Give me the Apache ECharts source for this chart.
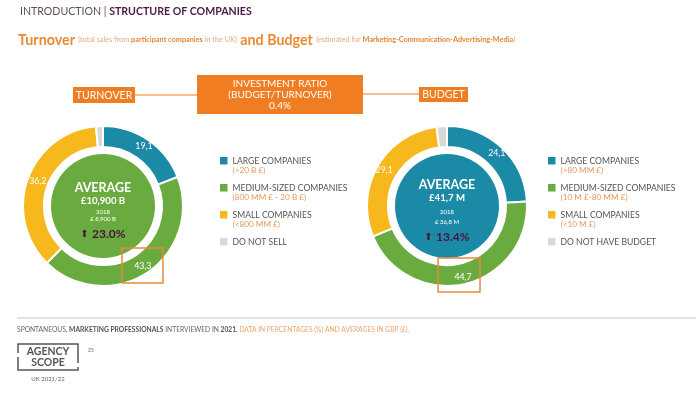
<!DOCTYPE html>
<html>
<head>
<meta charset="utf-8">
<script src="https://cdn.jsdelivr.net/npm/echarts@6/dist/echarts.min.js"></script>
<style>html,body{margin:0;padding:0;background:#fff}#c{width:700px;height:393px}</style>
</head>
<body>
<div id="c"></div>
<script>
const turnoverNames = ['LARGE COMPANIES', 'MEDIUM-SIZED COMPANIES', 'SMALL COMPANIES', 'DO NOT SELL'];
const turnoverSubs = ['(>20 B £)', '(800 MM £ - 20 B £)', '(<800 MM £)', ''];
const turnoverValues = [19.1, 43.3, 36.2, 1.4];

const budgetNames = ['LARGE COMPANIES', 'MEDIUM-SIZED COMPANIES', 'SMALL COMPANIES', 'DO NOT HAVE BUDGET'];
const budgetSubs = ['(>80 MM £)', '(10 M £-80 MM £)', '(<10 M £)', ''];
const budgetValues = [24.1, 44.7, 29.1, 2.1];

const turnoverAvg = ['AVERAGE', '£10,900 B', '2018', '£ 8,900 B', '23.0%'];
const budgetAvg = ['AVERAGE', '£41,7 M', '2018', '£ 36,8 M', '13.4%'];
const investmentRatio = ['INVESTMENT RATIO', '(BUDGET/TURNOVER)', '0.4%'];

const COLORS = ['#1a8aa7', '#6aab3f', '#f6b81d', '#d9d9d9'];
const ORANGE = '#f07d22';
const FONT = 'Lato, "Open Sans", sans-serif';

const chart = echarts.init(document.getElementById('c'), null, {renderer: 'canvas'});

function pieSeries(names, values, center) {
  return {
    type: 'pie',
    center: center,
    radius: [59, 80],
    startAngle: 90,
    clockwise: true,
    silent: true,
    avoidLabelOverlap: false,
    itemStyle: {borderColor: '#fff', borderWidth: 2},
    label: {
      show: true,
      position: 'inside',
      color: '#fff',
      fontSize: 8.8,
      fontFamily: FONT,
      formatter: p => p.dataIndex === 3 ? '' : String(p.value).replace('.', ',')
    },
    labelLayout: p => (p.seriesIndex === 0 && p.dataIndex === 2) ? {dx: 3} : {},
    labelLine: {show: false},
    data: names.map((n, i) => ({name: n, value: values[i], itemStyle: {color: COLORS[i]}}))
  };
}

function centerTexts(cx, cy, avg, fill, dy) {
  const els = [];
  els.push({type: 'circle', shape: {cx: cx, cy: cy, r: 52}, style: {fill: fill}, silent: true, z: 1});
  const rows = [
    {t: avg[0], y: cy - 18 - dy, s: 12.5, w: 'bold'},
    {t: avg[1], y: cy - 5 - dy, s: 9.6, w: 'bold'},
    {t: avg[2], y: cy + 6, s: 6, w: 'normal'},
    {t: avg[3], y: cy + 13 + dy, s: 6, w: 'normal'},
  ];
  rows.forEach(r => els.push({type: 'text', x: cx, y: r.y, silent: true, z: 2,
    style: {text: r.t, fill: '#fff', font: r.w + ' ' + r.s + 'px ' + FONT, align: 'center', verticalAlign: 'middle'}}));
  els.push({type: 'text', x: cx, y: cy + 28 + dy, silent: true, z: 2,
    style: {text: '{a|⬆} {b|' + avg[4] + '}', align: 'center', verticalAlign: 'middle',
      rich: {a: {fill: '#4a1340', fontSize: 10, fontFamily: 'DejaVu Sans'},
             b: {fill: '#4a1340', fontSize: 12, fontWeight: 'bold', fontFamily: FONT}}}});
  return els;
}

function legendEls(x, names, subs) {
  const ys = [161, 188, 215, 242];
  const els = [];
  names.forEach((n, i) => {
    els.push({type: 'rect', shape: {x: x, y: ys[i] - 4, width: 7.5, height: 7.5}, style: {fill: COLORS[i]}, silent: true});
    els.push({type: 'text', x: x + 12.5, y: ys[i], silent: true,
      style: {text: n, fill: '#555', font: '8.6px ' + FONT, verticalAlign: 'middle'}});
    if (subs[i]) {
      els.push({type: 'text', x: x + 12.5, y: ys[i] + 9.5, silent: true,
        style: {text: subs[i], fill: '#e9965a', font: '8.2px ' + FONT, verticalAlign: 'middle'}});
    }
  });
  return els;
}

function boxEl(x, y, w, h, lines, fs, ys) {
  const els = [{type: 'rect', shape: {x: x, y: y, width: w, height: h}, style: {fill: ORANGE}, silent: true}];
  lines.forEach((t, i) => {
    els.push({type: 'text', x: x + w / 2, y: ys[i], silent: true,
      style: {text: t, fill: '#fff', font: fs + 'px ' + FONT, align: 'center', verticalAlign: 'middle'}});
  });
  return els;
}

const graphics = [].concat(
  [{type: 'text', x: 20, y: 12, silent: true,
    style: {text: '{a|INTRODUCTION | }{b|STRUCTURE OF COMPANIES}', verticalAlign: 'middle',
      rich: {a: {fill: '#5e4c5c', fontSize: 10.6, fontFamily: FONT},
             b: {fill: '#4b1b45', fontSize: 10.6, fontWeight: 'bold', fontFamily: FONT}}}},
   {type: 'text', x: 18, y: 40, silent: true,
    style: {text: '{a|Turnover} {s|(total sales from }{sb|participant companies}{s| in the UK)} {a|and Budget} {s|(estimated for }{sb|Marketing-Communication-Advertising-Media}{s|)}',
      verticalAlign: 'middle',
      rich: {a: {fill: '#ea8a33', fontSize: 14.3, fontWeight: 'bold', fontFamily: FONT},
             s: {fill: '#eba878', fontSize: 7.3, fontFamily: FONT},
             sb: {fill: '#e2853a', fontSize: 7.3, fontWeight: 'bold', fontFamily: FONT}}}},
   {type: 'line', shape: {x1: 135, y1: 95, x2: 197, y2: 95}, style: {stroke: ORANGE, lineWidth: 1}, silent: true},
   {type: 'line', shape: {x1: 363, y1: 94, x2: 419, y2: 94}, style: {stroke: ORANGE, lineWidth: 1}, silent: true}
  ],
  boxEl(73, 87, 62, 16, ['TURNOVER'], 10.5, [95.5]),
  boxEl(197, 75, 166, 39, investmentRatio, 10, [84, 95, 106]),
  boxEl(419, 87, 49, 15, ['BUDGET'], 10.5, [95]),
  centerTexts(103, 206, turnoverAvg, '#6aab3f', 0),
  centerTexts(447, 206, budgetAvg, '#1a8aa7', 3),
  [{type: 'rect', shape: {x: 122, y: 248, width: 41, height: 35}, style: {fill: 'none', stroke: '#e98a3a', lineWidth: 1.5}, silent: true, z: 10},
   {type: 'rect', shape: {x: 438, y: 258, width: 42, height: 34}, style: {fill: 'none', stroke: '#e98a3a', lineWidth: 1.5}, silent: true, z: 10}],
  legendEls(220, turnoverNames, turnoverSubs),
  legendEls(548, budgetNames, budgetSubs),
  [{type: 'line', shape: {x1: 17, y1: 318, x2: 696, y2: 318}, style: {stroke: '#e2e2e2', lineWidth: 2}, silent: true},
   {type: 'text', x: 17, y: 330, silent: true,
    style: {text: '{g|SPONTANEOUS, }{b|MARKETING PROFESSIONALS}{g| INTERVIEWED IN }{b|2021.}{o| DATA IN PERCENTAGES (%) AND AVERAGES IN GBP (£).}',
      verticalAlign: 'middle',
      rich: {g: {fill: '#666', fontSize: 6.7, fontFamily: FONT},
             b: {fill: '#555', fontSize: 6.7, fontWeight: 'bold', fontFamily: FONT},
             o: {fill: '#eaa56c', fontSize: 6.7, fontFamily: FONT}}}},
   {type: 'polyline', shape: {points: [[18, 353], [18, 344], [78, 344], [78, 363]]}, style: {stroke: '#555', lineWidth: 1.5, fill: 'none'}, silent: true},
   {type: 'polyline', shape: {points: [[18, 357], [18, 370], [78, 370], [78, 367]]}, style: {stroke: '#555', lineWidth: 1.5, fill: 'none'}, silent: true},
   {type: 'text', x: 48, y: 352, silent: true, style: {text: 'AGENCY', fill: '#555', font: 'bold 10.5px ' + FONT, align: 'center', verticalAlign: 'middle'}},
   {type: 'text', x: 48, y: 363, silent: true, style: {text: 'SCOPE', fill: '#555', font: 'bold 10.5px ' + FONT, align: 'center', verticalAlign: 'middle'}},
   {type: 'text', x: 88, y: 350, silent: true, style: {text: '25', fill: '#666', font: '5px ' + FONT, verticalAlign: 'middle'}},
   {type: 'text', x: 48, y: 379, silent: true, style: {text: 'UK 2021/22', fill: '#666', font: '6px ' + FONT, align: 'center', verticalAlign: 'middle'}}
  ]
);

chart.setOption({
  backgroundColor: '#fff',
  animation: false,
  series: [
    pieSeries(turnoverNames, turnoverValues, [103, 206]),
    pieSeries(budgetNames, budgetValues, [447, 206])
  ],
  graphic: {elements: graphics}
});
</script>
</body>
</html>
